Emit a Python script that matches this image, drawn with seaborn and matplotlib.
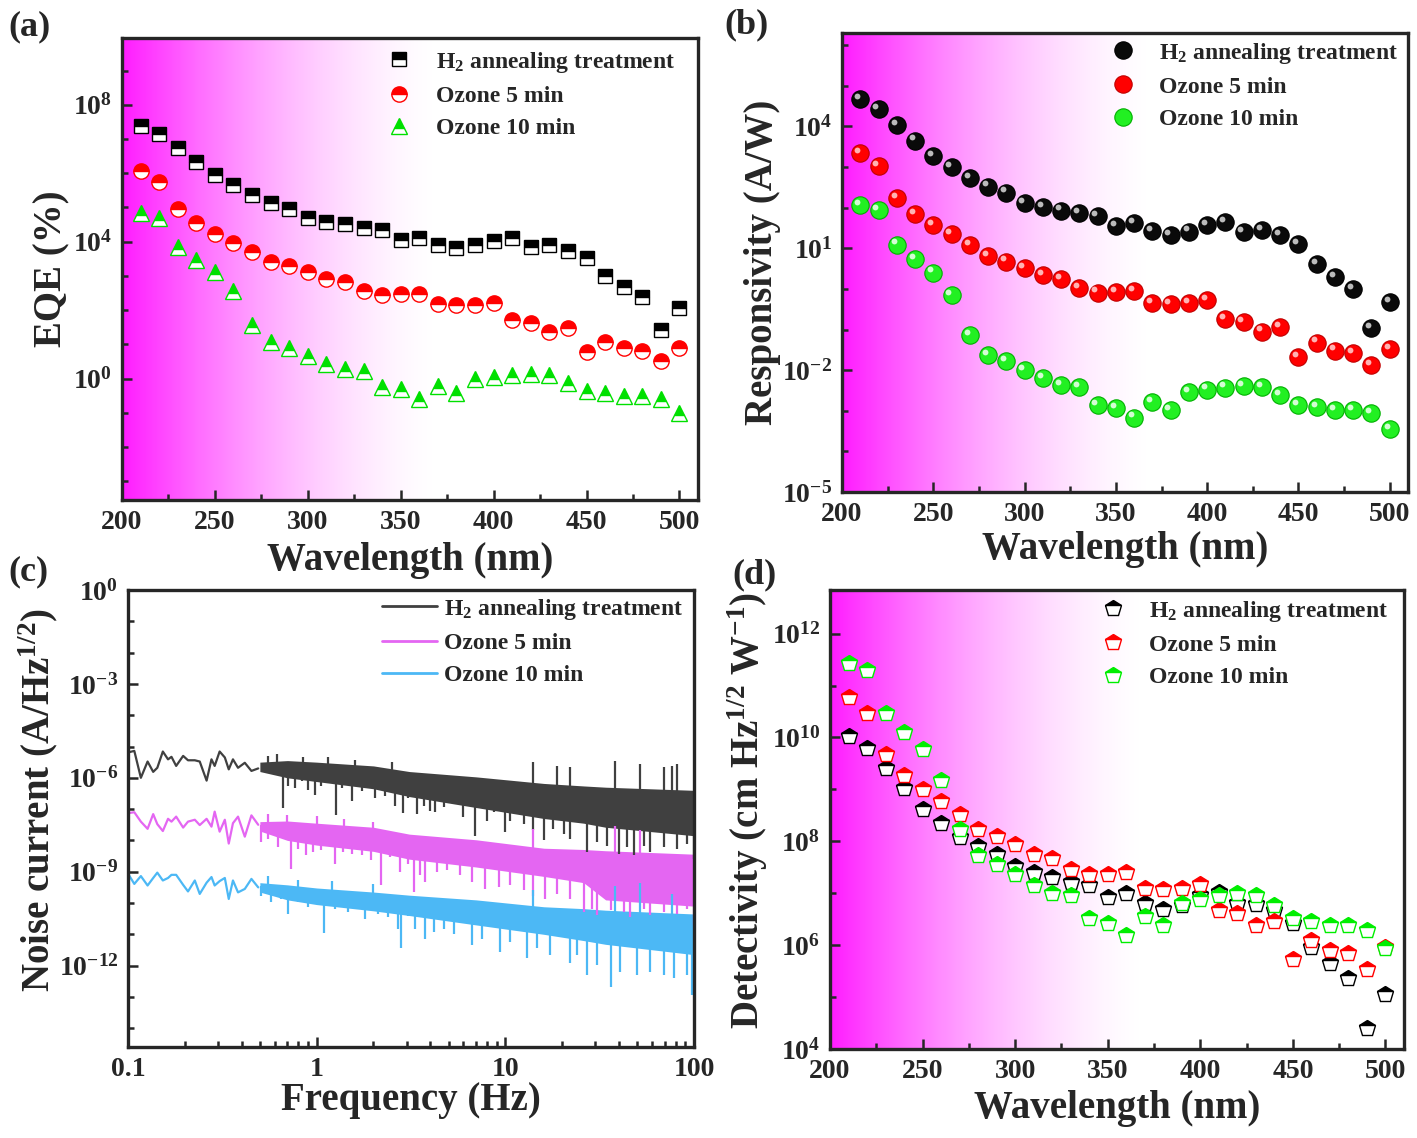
import numpy as np
import matplotlib
matplotlib.use("Agg")
import matplotlib.pyplot as plt
import matplotlib.ticker as mticker
from matplotlib.colors import LinearSegmentedColormap
from matplotlib.transforms import offset_copy
import seaborn as sns

sns.set_style("ticks")
plt.rcParams['font.family'] = ['Liberation Serif', 'DejaVu Serif']
plt.rcParams['font.weight'] = 'bold'
plt.rcParams['axes.labelweight'] = 'bold'
plt.rcParams['mathtext.fontset'] = 'custom'
plt.rcParams['mathtext.rm'] = 'Liberation Serif:bold'
plt.rcParams['mathtext.it'] = 'Liberation Serif:italic:bold'
plt.rcParams['mathtext.bf'] = 'Liberation Serif:bold'
plt.rcParams['mathtext.default'] = 'rm'
plt.rcParams['axes.linewidth'] = 2.4

LABELS = ["H$_2$ annealing treatment", "Ozone 5 min", "Ozone 10 min"]

# wavelength (nm)
wl = [210, 220, 230, 240, 250, 260, 270, 280, 290, 300,
      310, 320, 330, 340, 350, 360, 370, 380, 390, 400,
      410, 420, 430, 440, 450, 460, 470, 480, 490, 500]

# (a) EQE (%), log10 values
eqe_h2 = [7.38, 7.14, 6.74, 6.32, 5.94, 5.64, 5.35, 5.13, 4.96, 4.70,
          4.58, 4.51, 4.39, 4.34, 4.05, 4.12, 3.91, 3.81, 3.90, 4.03,
          4.10, 3.83, 3.89, 3.73, 3.51, 3.01, 2.68, 2.39, 1.43, 2.06]
eqe_o5 = [6.07, 5.74, 4.94, 4.53, 4.23, 3.97, 3.70, 3.40, 3.30, 3.10,
          2.90, 2.81, 2.55, 2.45, 2.46, 2.47, 2.17, 2.14, 2.14, 2.20,
          1.72, 1.63, 1.37, 1.48, 0.77, 1.07, 0.88, 0.80, 0.50, 0.89]
eqe_o10 = [4.83, 4.69, 3.83, 3.46, 3.11, 2.55, 1.56, 1.07, 0.88, 0.66,
           0.43, 0.27, 0.21, -0.25, -0.32, -0.59, -0.22, -0.43, 0.00, 0.05,
           0.11, 0.14, 0.11, -0.14, -0.36, -0.43, -0.51, -0.52, -0.61, -1.02]

# (b) responsivity (A/W), log10
res_h2 = [4.67, 4.43, 4.04, 3.65, 3.27, 2.99, 2.72, 2.52, 2.37, 2.12,
          2.02, 1.93, 1.87, 1.80, 1.55, 1.62, 1.42, 1.33, 1.41, 1.58,
          1.64, 1.40, 1.45, 1.32, 1.10, 0.61, 0.29, 0.00, -0.96, -0.32]
res_o5 = [3.34, 3.02, 2.23, 1.85, 1.57, 1.34, 1.08, 0.80, 0.67, 0.52,
          0.33, 0.25, 0.01, -0.09, -0.08, -0.05, -0.35, -0.37, -0.35, -0.27,
          -0.74, -0.81, -1.05, -0.95, -1.67, -1.32, -1.52, -1.58, -1.88, -1.49]
res_o10 = [2.06, 1.94, 1.09, 0.73, 0.40, -0.16, -1.14, -1.63, -1.78, -1.99,
           -2.19, -2.37, -2.41, -2.86, -2.93, -3.17, -2.79, -2.98, -2.54, -2.48,
           -2.43, -2.40, -2.41, -2.61, -2.86, -2.91, -2.98, -2.98, -3.06, -3.46]

# (d) detectivity (Jones), log10
det_h2 = [10.03, 9.80, 9.41, 9.02, 8.63, 8.36, 8.08, 7.91, 7.75, 7.52,
          7.41, 7.31, 7.21, 7.16, 6.93, 7.00, 6.82, 6.70, 6.77, 6.96,
          7.03, 6.82, 6.79, 6.68, 6.43, 5.97, 5.66, 5.36, 4.40, 5.05]
det_o5 = [10.78, 10.47, 9.68, 9.28, 9.00, 8.77, 8.52, 8.24, 8.10, 7.94,
          7.75, 7.68, 7.47, 7.37, 7.37, 7.41, 7.11, 7.09, 7.10, 7.17,
          6.67, 6.61, 6.38, 6.47, 5.74, 6.10, 5.90, 5.85, 5.55, 5.97]
det_o10 = [11.44, 11.30, 10.47, 10.10, 9.77, 9.19, 8.24, 7.74, 7.56, 7.37,
           7.16, 7.00, 6.96, 6.52, 6.43, 6.20, 6.56, 6.39, 6.81, 6.88,
           6.96, 7.00, 6.97, 6.77, 6.53, 6.47, 6.39, 6.39, 6.30, 5.95]

# (c) noise current: low-frequency trace (Hz, log10 A/Hz^1/2)
tr_f = [0.100, 0.108, 0.117, 0.127, 0.136, 0.143, 0.153, 0.163, 0.170, 0.180,
        0.196, 0.208, 0.226, 0.240, 0.261, 0.277, 0.288, 0.306, 0.326, 0.342,
        0.360, 0.383, 0.416, 0.451, 0.490]
tr_h2 = [-5.19, -5.14, -6.00, -5.48, -5.81, -5.68, -5.16, -5.41, -5.33, -5.62,
         -5.30, -5.44, -5.44, -5.48, -6.09, -5.41, -5.62, -5.16, -5.35, -5.73,
         -5.41, -5.68, -5.52, -5.78, -5.70]
tr_o5 = [-7.13, -7.10, -7.40, -7.63, -7.16, -7.48, -7.70, -7.31, -7.40, -7.24,
         -7.59, -7.40, -7.34, -7.51, -7.31, -7.56, -7.08, -7.72, -7.34, -8.10,
         -7.45, -7.24, -7.88, -7.20, -7.50]
tr_o10 = [-9.06, -9.39, -9.14, -9.44, -9.20, -9.03, -9.28, -9.20, -9.10, -9.10,
          -9.42, -9.63, -9.28, -9.71, -9.35, -9.17, -9.44, -9.30, -9.20, -9.87,
          -9.28, -9.66, -9.55, -9.23, -9.50]

# (c) dense region: solid core of the trace
band_f = [0.5, 0.7, 1.0, 2.0, 3.1, 7.0, 16.0, 26.0, 34.0, 100.0]
band_h2_hi = [-5.50, -5.45, -5.50, -5.62, -5.80, -5.97, -6.18, -6.26, -6.30, -6.40]
band_h2_lo = [-5.80, -6.00, -6.12, -6.35, -6.60, -6.95, -7.30, -7.45, -7.58, -7.85]
band_o5_hi = [-7.40, -7.38, -7.45, -7.58, -7.80, -7.98, -8.25, -8.29, -8.33, -8.44]
band_o5_lo = [-7.70, -8.00, -8.15, -8.35, -8.60, -8.85, -9.15, -9.35, -9.90, -10.10]
band_o10_hi = [-9.35, -9.42, -9.52, -9.65, -9.75, -9.90, -10.12, -10.18, -10.23, -10.35]
band_o10_lo = [-9.65, -9.90, -10.05, -10.25, -10.40, -10.70, -11.00, -11.20, -11.32, -11.65]

# (c) dips below the core (Hz, log10)
dip_h2_f = [0.66, 0.706, 0.766, 0.832, 0.902, 0.978, 1.06, 1.27, 1.36, 1.53,
            1.73, 2.04, 2.30, 2.6, 2.87, 3.05, 3.40, 3.69, 4.0, 4.25,
            4.71, 5.32, 6.0, 6.93, 8.0, 8.67, 10.0, 10.6, 12.5, 14.1,
            16.0, 18.0, 20.4, 22.1, 27.1, 30.6, 34.6, 39.9, 44.2, 48.0,
            54.2, 58.8, 69.2, 81.3, 92, 99.5]
dip_h2_v = [-6.97, -6.27, -6.32, -6.11, -6.38, -6.54, -6.27, -7.18, -6.32, -6.75,
            -6.43, -6.65, -6.59, -6.91, -7.13, -6.65, -7.16, -6.89, -7.05, -7.10,
            -6.94, -6.84, -7.26, -7.85, -7.37, -7.10, -7.74, -7.37, -7.47, -7.68,
            -8.00, -7.63, -7.79, -7.95, -8.38, -8.06, -8.17, -8.43, -8.22, -8.48,
            -8.17, -8.38, -8.22, -8.27, -8.11, -8.60]
dip_o5_f = [0.51, 0.553, 0.625, 0.73, 0.798, 0.883, 0.96, 1.06, 1.25, 1.38,
            1.53, 1.73, 1.95, 2.2, 2.44, 2.76, 3.05, 3.27, 3.54, 3.77,
            4.34, 4.9, 5.77, 6.65, 7.83, 9.22, 10.6, 12.5, 14.1, 16.3,
            18.8, 22.1, 26.1, 28.9, 30.6, 36.1, 42.4, 46.0, 54.2, 58.8,
            69.2, 81.3, 92, 99.5]
dip_o5_v = [-8.04, -7.94, -8.20, -8.90, -8.26, -8.47, -8.37, -8.31, -8.74, -8.37,
            -8.42, -8.47, -8.63, -9.44, -8.53, -9.01, -8.74, -9.65, -9.12, -9.33,
            -9.01, -8.96, -9.12, -9.33, -9.54, -9.49, -9.44, -9.60, -9.76, -9.86,
            -9.70, -9.86, -10.29, -10.18, -10.39, -10.23, -10.29, -10.45, -10.18, -10.39,
            -10.29, -10.34, -10.18, -10.70]
dip_o10_f = [0.51, 0.575, 0.65, 0.706, 0.798, 0.90, 1.1, 1.25, 1.47, 1.80,
             2.12, 2.39, 2.7, 2.8, 3.05, 3.33, 3.77, 4.17, 4.71, 5.32,
             6.65, 7.52, 9.4, 10.6, 13.0, 14.7, 17.3, 22.1, 24.0, 27.1,
             30.6, 36.1, 40.7, 49.9, 58.8, 69.2, 78.2, 92, 97.8]
dip_o10_v = [-9.76, -9.98, -9.87, -10.35, -9.98, -10.14, -10.95, -10.19, -10.30, -10.52,
             -10.35, -10.46, -10.84, -11.45, -10.41, -10.82, -11.14, -10.93, -10.82, -10.98,
             -11.35, -11.14, -11.56, -11.24, -11.77, -11.45, -11.67, -11.93, -11.67, -12.30,
             -11.99, -12.67, -12.20, -12.30, -12.20, -12.30, -12.41, -12.30, -12.94]

# (c) sharp peaks above the core (Hz, log10)
spk_h2_f = [0.55, 0.62, 0.85, 1.15, 1.6, 2.5, 14, 18.8, 22, 38, 52, 69, 76, 81]
spk_h2_v = [-5.30, -5.25, -5.35, -5.35, -5.42, -5.48, -5.51, -5.62, -5.66, -5.45,
            -5.55, -5.66, -5.62, -5.57]
spk_o5_f = [0.55, 0.7, 1.0, 1.4, 2.0, 14, 38, 52]
spk_o5_v = [-7.15, -7.20, -7.22, -7.30, -7.40, -7.64, -7.53, -7.66]
spk_o10_f = [0.55, 0.8, 1.2, 2.0, 14, 38, 52, 76]
spk_o10_v = [-9.15, -9.25, -9.30, -9.40, -9.60, -9.45, -9.35, -9.70]

W, H = 1417, 1138
fig = plt.figure(figsize=(W / 100, H / 100), dpi=100)


def px_axes(l, t, r, b):
    return fig.add_axes([l / W, 1 - b / H, (r - l) / W, (b - t) / H])


ax_a = px_axes(122, 38, 698, 500)
ax_b = px_axes(842, 33, 1408, 492)
ax_c = px_axes(128, 590, 694, 1047)
ax_d = px_axes(830, 590, 1404, 1049)

uv_cmap = LinearSegmentedColormap.from_list('uv', ['#FF1CFF', '#FFFFFF'])


def uv_background(ax, x0=200, x1=510, fade_end=372):
    xs = np.linspace(x0, x1, 600)
    t = np.clip((xs - x0) / (fade_end - x0), 0, 1)
    frac = 1 - (1 - t) ** 1.6
    ax.imshow(frac[np.newaxis, :], extent=[0, 1, 0, 1], transform=ax.transAxes,
              cmap=uv_cmap, vmin=0, vmax=1, aspect='auto', zorder=0,
              interpolation='bilinear')


def half_markers(ax, y, marker, color, size, label):
    sns.lineplot(x=wl, y=np.power(10.0, y), ax=ax, marker=marker, linestyle='',
                 markersize=size, fillstyle='top', markerfacecolor=color,
                 markerfacecoloralt='white', markeredgecolor=color,
                 markeredgewidth=1.0, color=color, label=label,
                 errorbar=None, sort=False, zorder=3)


def ball_markers(ax, y, color, edge, shine, label):
    yy = np.power(10.0, y)
    sns.lineplot(x=wl, y=yy, ax=ax, marker='o', linestyle='', markersize=12.5,
                 markerfacecolor=color, markeredgecolor=edge, markeredgewidth=0.8,
                 color=color, label=label, errorbar=None, sort=False, zorder=3)
    shift = offset_copy(ax.transData, fig=fig, x=-2.3, y=2.3, units='points')
    ax.plot(wl, yy, marker='o', linestyle='', markersize=4.2, markerfacecolor=shine,
            markeredgewidth=0, transform=shift, alpha=0.9, zorder=4)


def style_wl_axis(ax, ylim, majors, minors):
    ax.set_yscale('log')
    ax.set_xlim(200, 510)
    ax.set_ylim(*ylim)
    ax.xaxis.set_major_locator(mticker.MultipleLocator(50))
    ax.xaxis.set_minor_locator(mticker.MultipleLocator(25))
    ax.yaxis.set_major_locator(mticker.FixedLocator(majors))
    ax.yaxis.set_minor_locator(mticker.FixedLocator(minors))
    ax.yaxis.set_major_formatter(mticker.LogFormatterMathtext())
    ax.yaxis.set_minor_formatter(mticker.NullFormatter())


def finish(ax, xlabel, ylabel, xl_y, yl_x, yl_y, anchor, hlen=1.0, hpad=1.05):
    ax.tick_params(which='both', direction='in', top=False, right=False,
                   width=1.8, labelsize=20, pad=7)
    ax.tick_params(which='major', length=7)
    ax.tick_params(which='minor', length=4)
    ax.set_xlabel(xlabel, fontsize=28, fontweight='bold')
    ax.set_ylabel(ylabel, fontsize=28, fontweight='bold')
    ax.xaxis.set_label_coords(0.5, xl_y)
    ax.xaxis.label.set_verticalalignment('center')
    ax.yaxis.set_label_coords(yl_x, yl_y)
    ax.yaxis.label.set_verticalalignment('center')
    for sp in ax.spines.values():
        sp.set_linewidth(2.4)
        sp.set_zorder(5)
    leg = ax.legend(loc='upper right', bbox_to_anchor=anchor, frameon=False,
                    fontsize=17, handlelength=hlen, handletextpad=hpad,
                    labelspacing=0.45, borderaxespad=0.0)
    return leg


# (a) EQE
uv_background(ax_a)
half_markers(ax_a, eqe_h2, 's', 'black', 9.5, LABELS[0])
half_markers(ax_a, eqe_o5, 'o', '#FF0000', 11, LABELS[1])
half_markers(ax_a, eqe_o10, '^', '#00E000', 11.5, LABELS[2])
style_wl_axis(ax_a, (10 ** -3.55, 10 ** 9.95), [1, 1e4, 1e8],
              [10.0 ** k for k in range(-3, 10)])
finish(ax_a, 'Wavelength (nm)', 'EQE (%)', -0.13, -0.122, 0.5, (0.976, 0.995))

# (b) responsivity
uv_background(ax_b)
ball_markers(ax_b, res_h2, '#0a0a0a', '#000000', '#d0d0d0', LABELS[0])
ball_markers(ax_b, res_o5, '#FF0000', '#C00000', '#ffc8c8', LABELS[1])
ball_markers(ax_b, res_o10, '#22F022', '#00B000', '#e8ffe8', LABELS[2])
style_wl_axis(ax_b, (1e-5, 10 ** 6.3), [1e-5, 1e-2, 1e1, 1e4],
              [10.0 ** k for k in range(-5, 7)])
finish(ax_b, 'Wavelength (nm)', 'Responsivity (A/W)', -0.126, -0.141, 0.5, (1.0, 1.004))

# (c) noise current
noise_sets = [
    (tr_h2, band_h2_lo, band_h2_hi, dip_h2_f, dip_h2_v, spk_h2_f, spk_h2_v, '#404040', LABELS[0]),
    (tr_o5, band_o5_lo, band_o5_hi, dip_o5_f, dip_o5_v, spk_o5_f, spk_o5_v, '#E466F2', LABELS[1]),
    (tr_o10, band_o10_lo, band_o10_hi, dip_o10_f, dip_o10_v, spk_o10_f, spk_o10_v, '#4CB8F5', LABELS[2]),
]
lbf = np.log10(band_f)
for tr, lo, hi, df, dv, sf, sv, col, lab in noise_sets:
    sns.lineplot(x=tr_f, y=np.power(10.0, tr), ax=ax_c, color=col, linewidth=1.6,
                 label=lab, errorbar=None, sort=False)
    ax_c.fill_between(band_f, np.power(10.0, lo), np.power(10.0, hi), color=col, linewidth=0)
    base_lo = np.interp(np.log10(df), lbf, lo)
    ax_c.vlines(df, np.power(10.0, dv), np.power(10.0, base_lo + 0.2), color=col, linewidth=1.6)
    base_hi = np.interp(np.log10(sf), lbf, hi)
    ax_c.vlines(sf, np.power(10.0, base_hi - 0.2), np.power(10.0, sv), color=col, linewidth=1.6)
ax_c.set_xscale('log')
ax_c.set_yscale('log')
ax_c.set_xlim(0.1, 100)
ax_c.set_ylim(10 ** -14.6, 1)
ax_c.xaxis.set_major_locator(mticker.FixedLocator([0.1, 1, 10, 100]))
ax_c.xaxis.set_major_formatter(mticker.FixedFormatter(['0.1', '1', '10', '100']))
ax_c.xaxis.set_minor_locator(mticker.LogLocator(base=10, subs=np.arange(2, 10), numticks=20))
ax_c.xaxis.set_minor_formatter(mticker.NullFormatter())
ax_c.yaxis.set_major_locator(mticker.FixedLocator([1e0, 1e-3, 1e-6, 1e-9, 1e-12]))
ax_c.yaxis.set_minor_locator(mticker.FixedLocator([10.0 ** k for k in range(-14, 1)]))
ax_c.yaxis.set_major_formatter(mticker.LogFormatterMathtext())
ax_c.yaxis.set_minor_formatter(mticker.NullFormatter())
leg_c = finish(ax_c, 'Frequency (Hz)', 'Noise current (A/Hz$^{1/2}$)', -0.116, -0.159, 0.54,
               (0.998, 1.006), hlen=2.35, hpad=0.3)
for ln in leg_c.get_lines():
    ln.set_linewidth(2.0)

# (d) detectivity
uv_background(ax_d)
half_markers(ax_d, det_h2, 'p', 'black', 12, LABELS[0])
half_markers(ax_d, det_o5, 'p', '#FF0000', 12, LABELS[1])
half_markers(ax_d, det_o10, 'p', '#00EE00', 12, LABELS[2])
style_wl_axis(ax_d, (1e4, 10 ** 12.84), [1e4, 1e6, 1e8, 1e10, 1e12],
              [10.0 ** k for k in range(5, 13, 2)])
finish(ax_d, 'Wavelength (nm)', 'Detectivity (cm Hz$^{1/2}$ W$^{-1}$)', -0.13, -0.143, 0.52,
       (0.9895, 1.002))

for txt, x, y in [('(a)', 30, 27), ('(b)', 747, 25), ('(c)', 28, 572), ('(d)', 754, 575)]:
    fig.text(x / W, 1 - y / H, txt, ha='center', va='center', fontsize=26, fontweight='bold')

fig.savefig('out.png', dpi=100)
